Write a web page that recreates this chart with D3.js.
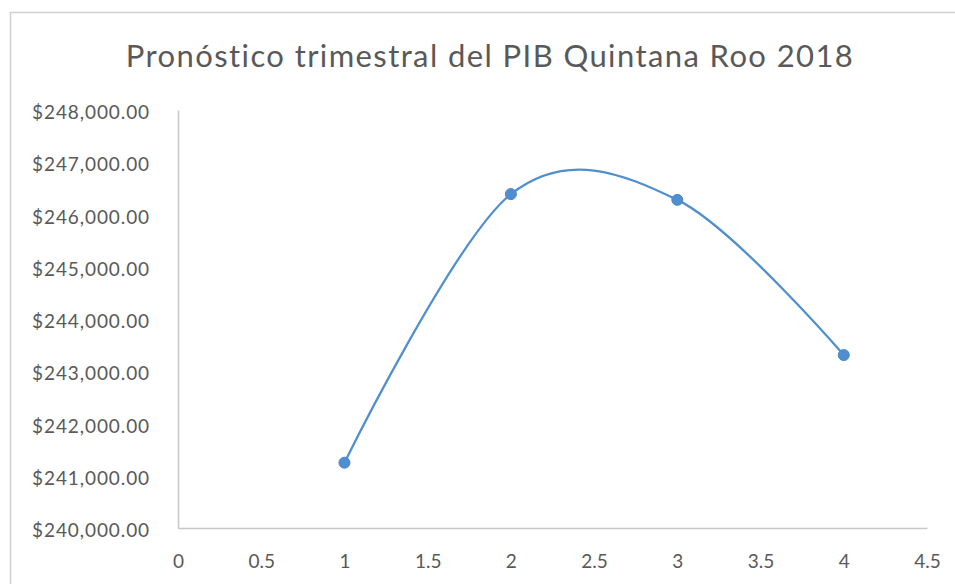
<!DOCTYPE html>
<html><head><meta charset="utf-8">
<script src="https://cdn.jsdelivr.net/npm/d3@7/dist/d3.min.js"></script>
<style>body{margin:0;background:#fff;}svg{display:block;}</style>
</head><body>
<svg id="c" width="955" height="584"></svg>
<script>
const title = "Pronóstico trimestral del PIB Quintana Roo 2018";
const quarters = [1, 2, 3, 4];
const pib = [241250, 246390, 246280, 243310];
const xTicks = [0, 0.5, 1, 1.5, 2, 2.5, 3, 3.5, 4, 4.5];
const yTicks = [240000, 241000, 242000, 243000, 244000, 245000, 246000, 247000, 248000];

const svg = d3.select("#c");
const font = "Lato, 'Open Sans', sans-serif";
// frame
svg.append("rect").attr("x", 10.5).attr("y", 12.5).attr("width", 960).attr("height", 600)
  .attr("fill", "#fff").attr("stroke", "#d0d0d0").attr("stroke-width", 1.5);

const x = d3.scaleLinear().domain([0, 4.5]).range([178, 927]);
const y = d3.scaleLinear().domain([240000, 248000]).range([528, 110]);

svg.append("text").attr("x", 490).attr("y", 67).attr("text-anchor", "middle")
  .attr("font-family", font).attr("font-size", 31).attr("letter-spacing", 1.4)
  .attr("fill", "#595959").text(title);

const fmt = d => "$" + d3.format(",.2f")(d);
const ya = svg.append("g").attr("transform", "translate(178,0)")
  .call(d3.axisLeft(y).tickValues(yTicks).tickSize(0).tickPadding(28).tickFormat(fmt));
ya.select(".domain").attr("stroke", "#c8c8c8").attr("stroke-width", 1.5);
ya.selectAll("text").attr("font-family", font).attr("font-size", 19).attr("letter-spacing", 0.9)
  .attr("dy", "0.45em").attr("fill", "#595959");

const xa = svg.append("g").attr("transform", "translate(0,528)")
  .call(d3.axisBottom(x).tickValues(xTicks).tickSize(0).tickPadding(27).tickFormat(d => String(d)));
xa.select(".domain").attr("stroke", "#c8c8c8").attr("stroke-width", 1.5);
xa.selectAll("text").attr("font-family", font).attr("font-size", 19).attr("fill", "#595959");

const pts = quarters.map((q, i) => [q, pib[i]]);
const line = d3.line().x(d => x(d[0])).y(d => y(d[1])).curve(d3.curveCardinal.tension(0));
svg.append("path").attr("d", line(pts)).attr("fill", "none").attr("stroke", "#4f8fd0").attr("stroke-width", 2.25);
svg.selectAll("circle.m").data(pts).join("circle").attr("class", "m")
  .attr("cx", d => x(d[0])).attr("cy", d => y(d[1])).attr("r", 5.5)
  .attr("fill", "#4f8fd0").attr("stroke", "#4a86c8");
</script>
</body></html>
